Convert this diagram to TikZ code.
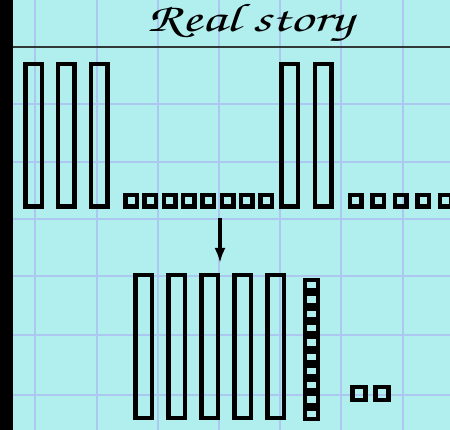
\documentclass[tikz,border=0pt]{standalone}
\usepackage[T1,TU]{fontenc}
\usetikzlibrary{arrows.meta}
\definecolor{paper}{HTML}{B1EEEE}
\definecolor{gridblue}{HTML}{ACC8F0}
\definecolor{ruleline}{HTML}{303838}

\begin{document}
\begin{tikzpicture}[
  x=1pt, y=-1pt,
  >=Latex,
  rod/.style={draw=black, line width=4.5pt, minimum width=16.5pt, minimum height=142.5pt, inner sep=0pt},
  unit/.style={draw=black, line width=4.5pt, minimum size=11.5pt, inner sep=0pt},
  stackunit/.style={draw=black, line width=4pt, minimum width=13pt, minimum height=10.3pt, inner sep=0pt},
  gridline/.style={draw=gridblue, line width=2pt},
  cursive/.style={font=\fontencoding{T1}\fontfamily{pzc}\fontseries{mb}\fontshape{it}\fontsize{40}{44}\selectfont}
]
\useasboundingbox (0,0) rectangle (450,430);
\clip (0,0) rectangle (450,430);

% paper and grid
\fill[black] (0,0) rectangle (13,430);
\fill[paper] (13,0) rectangle (450,430);
\foreach \x in {35,96.5,157.5,219,279.5,341,402.5}
  \draw[gridline] (\x,0) -- (\x,430);
\foreach \y in {104,162,219,276,335,395}
  \draw[gridline] (13,\y) -- (450,\y);

% title
\node[cursive, inner sep=0pt, anchor=base, xscale=1.45] (title) at (250,32) {Real story};
\draw[ruleline, line width=1.5pt] (13,47) -- (450,47);

% first number
\foreach \x [count=\i] in {33.5,66,99}
  \node[rod] (tensA\i) at (\x,135.5) {};
\foreach \i in {1,...,8}
  \node[unit] (onesA\i) at ({131+19.3*(\i-1)},201) {};

% second number
\foreach \x [count=\i] in {289.5,323}
  \node[rod] (tensB\i) at (\x,135.5) {};
\foreach \i in {1,...,5}
  \node[unit] (onesB\i) at ({355.5+22.5*(\i-1)},201) {};

% regrouped
\foreach \i in {1,...,5}
  \node[rod] (tensC\i) at ({143.5+33*(\i-1)},346.5) {};
\foreach \i in {1,...,10}
  \node[stackunit] (stack\i) at (311.5,{285.2+14.3*(\i-1)}) {};
\node[unit, minimum size=13pt] (onesC1) at (359,393.5) {};
\node[unit, minimum size=13pt] (onesC2) at (382,393.5) {};

\coordinate (arrowtop) at (220,218);
\coordinate (arrowend) at (220,263);
\draw[->, line width=4pt, arrows={-Latex[length=15pt,width=11pt]}] (arrowtop) -- (arrowend);
\end{tikzpicture}
\end{document}
